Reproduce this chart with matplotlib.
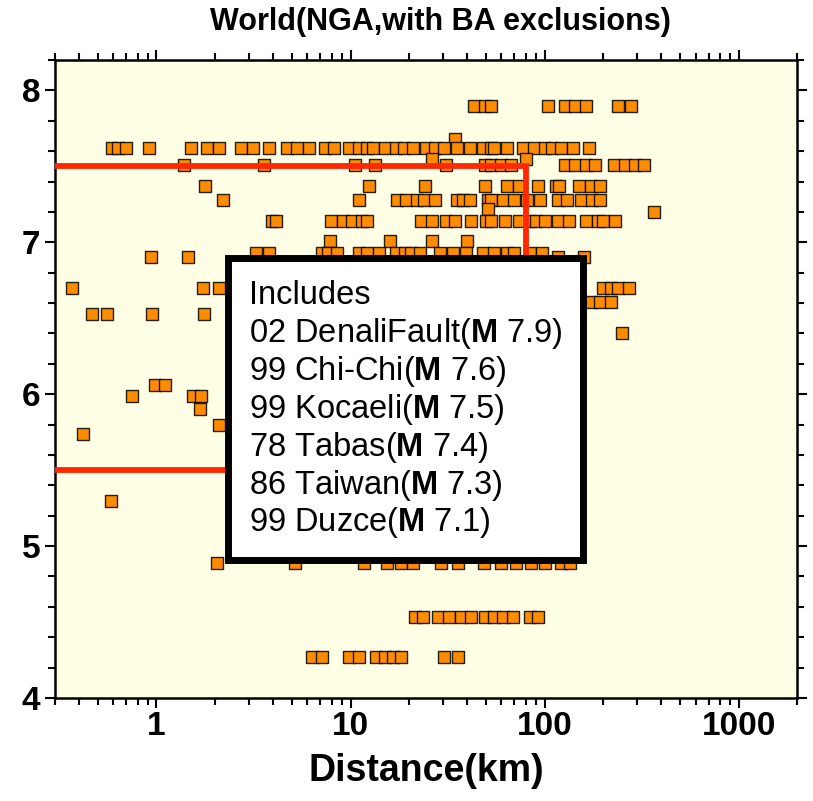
import numpy as np
import matplotlib
matplotlib.use("Agg")
import matplotlib.pyplot as plt
from matplotlib.patches import Rectangle
from matplotlib.ticker import FixedLocator, NullFormatter, FuncFormatter

plt.rcParams['mathtext.fontset'] = 'custom'
plt.rcParams['mathtext.rm'] = 'Liberation Sans'
plt.rcParams['mathtext.bf'] = 'Liberation Sans:bold'

# ---- data: distance (km) for each magnitude row ----
m790 = [43.1, 49.1, 52.7, 103.6, 126.8, 142.8, 164.5, 240.5, 277.5]
m768 = [34.4]
m762 = [0.593, 0.637, 0.70, 0.91, 1.50, 1.83, 2.11, 2.74, 3.16, 3.78, 4.68, 5.27,
        6.08, 7.35, 8.27, 9.77, 11.1, 12.2, 13.1, 15.1, 17.1, 18.8, 21.1, 24.4,
        27.4, 30.5, 35.2, 41.5, 47.9, 52.7, 55.2, 63.7, 77.1, 87.8, 101, 109,
        122, 141, 169]
m755 = [26.2, 79.8]
m751 = [1.38, 3.60, 10.5, 13.4, 31.2, 49.1, 52.7, 59.3, 66.8, 128, 143, 163,
        181, 227, 259, 291, 324]
m737 = [1.77, 12.5, 24.1, 49.6, 63.7, 73.5, 92, 114, 119, 150, 173, 194]
m728 = [2.19, 11.0, 17.3, 19.4, 21.9, 23.8, 27.1, 35.2, 37.8, 41.1, 50.9, 52.7,
        60.8, 69.2, 80.8, 94.3, 117, 131, 155, 175, 192]
m722 = [50.9]
m720 = [365]
m714 = [3.96, 4.15, 7.98, 9.10, 10.2, 11.4, 12.2, 23.2, 26.2, 31.2, 34.4, 42.0,
        50.2, 52.7, 62.2, 73.5, 83.7, 89.9, 101, 117, 134, 163, 188, 201, 232]
m701 = [7.8, 15.9, 26.2, 40.0]
m693 = [3.24, 3.82, 7.09, 7.70, 8.57, 11.1, 12.2, 14.1, 17.1, 19.2, 20.6, 22.7,
        28.8, 33.6, 39.6, 47.9, 55.2, 63.7, 70.0, 83.7, 96.5]
m690 = [0.94, 1.46, 117, 159]
m670 = [0.369, 1.73, 2.09, 199, 219, 240, 271]
m661 = [173, 192, 219]
m653 = [0.468, 0.559, 0.953, 1.75]
m640 = [252]
m606 = [0.988, 1.11]
m599 = [0.752, 1.55, 1.69]
m590 = [1.67]
m580 = [2.09]
m574 = [0.42]
m530 = [0.586]
m489 = [2.04, 5.2, 11.7, 15.5, 18.1, 20.9, 29.1, 36.0, 48.5, 59.3, 70.9, 84.7,
        101, 121, 136]
m453 = [21.6, 23.5, 28.1, 32.0, 36.9, 42.0, 49.6, 54.6, 60.8, 68.4, 83.7, 92.0]
m427 = [6.37, 7.17, 9.88, 11.0, 13.6, 15.1, 16.5, 18.1, 30.2, 35.6]

rows = [(7.90, m790), (7.68, m768), (7.62, m762), (7.55, m755), (7.51, m751),
        (7.37, m737), (7.28, m728), (7.22, m722), (7.20, m720), (7.14, m714),
        (7.01, m701), (6.93, m693), (6.90, m690), (6.70, m670), (6.61, m661),
        (6.53, m653), (6.40, m640), (6.06, m606), (5.99, m599), (5.90, m590),
        (5.80, m580), (5.74, m574), (5.30, m530), (4.89, m489), (4.53, m453),
        (4.27, m427)]

# selection box (distance / magnitude limits)
box_dist = [0.3, 80, 80, 0.3]
box_mag = [7.5, 7.5, 5.5, 5.5]

title = "World(NGA,with BA exclusions)"
xlabel = "Distance(km)"
legend_lines = ["Includes",
                "02 DenaliFault($\\mathbf{M}$ 7.9)",
                "99 Chi-Chi($\\mathbf{M}$ 7.6)",
                "99 Kocaeli($\\mathbf{M}$ 7.5)",
                "78 Tabas($\\mathbf{M}$ 7.4)",
                "86 Taiwan($\\mathbf{M}$ 7.3)",
                "99 Duzce($\\mathbf{M}$ 7.1)"]
xticks = [1, 10, 100, 1000]
yticks = [4, 5, 6, 7, 8]

FONT = ['Liberation Sans', 'DejaVu Sans']

fig = plt.figure(figsize=(8.13, 8.01), dpi=100)
ax = fig.add_axes([55/813, 1-698/801, 742/813, 638/801])
ax.set_facecolor('#FFFFE6')

dist = np.concatenate([np.array(d, float) for m, d in rows])
mag = np.concatenate([np.full(len(d), m) for m, d in rows])
ax.scatter(dist, mag, marker='s', s=84, facecolor='#FF8C00',
           edgecolor=(0, 0, 0, 0.85), linewidths=1.0, zorder=3)

ax.plot(box_dist, box_mag, color='#FF2800', lw=4.2, zorder=4,
        solid_joinstyle='miter', solid_capstyle='butt')

ax.set_xscale('log')
ax.set_xlim(0.3, 2000)
ax.set_ylim(4, 8.2)

ax.xaxis.set_major_locator(FixedLocator(xticks))
ax.xaxis.set_major_formatter(FuncFormatter(lambda v, p: f"{v:g}"))
minors = [m * 10.0**e for e in range(-1, 4) for m in range(2, 10)]
ax.xaxis.set_minor_locator(FixedLocator(minors))
ax.xaxis.set_minor_formatter(NullFormatter())
ax.yaxis.set_major_locator(FixedLocator(yticks))
ax.yaxis.set_minor_locator(FixedLocator(np.arange(4.0, 8.21, 0.2)))

for s in ax.spines.values():
    s.set_linewidth(1.8)
ax.tick_params(which='both', direction='out', top=True, right=True,
               width=1.5, colors='black')
ax.tick_params(which='major', length=7.5, pad=3)
ax.tick_params(which='minor', length=5)
ax.tick_params(axis='x', which='major', pad=2)
for lab in ax.get_xticklabels() + ax.get_yticklabels():
    lab.set_fontfamily(FONT)
    lab.set_fontweight('bold')
    lab.set_fontsize(24)

ax.set_xlabel(xlabel, fontsize=27, fontweight='bold', family=FONT, labelpad=8)
fig.text(440/813, 1-22/801, title, ha='center', va='center', fontsize=22,
         fontweight='bold', family=FONT)

# legend-like box
x0, x1 = (228-55)/742, (583-55)/742
y0, y1 = (698-560)/638, (698-258)/638
shadow = Rectangle((x0 + 0.004, y0 - 0.004), x1 - x0, y1 - y0, transform=ax.transAxes,
                   facecolor='#333333', edgecolor='none', zorder=5)
ax.add_patch(shadow)
rect = Rectangle((x0, y0), x1 - x0, y1 - y0, transform=ax.transAxes,
                 facecolor='white', edgecolor='black', lw=5, zorder=6)
ax.add_patch(rect)
for i, line in enumerate(legend_lines):
    ypx = 295 + 38 * i
    ax.text((249-55)/742, (698-ypx)/638, line, transform=ax.transAxes,
            ha='left', va='center', fontsize=23.5, family=FONT, zorder=7)

fig.savefig('out.png', dpi=100)
